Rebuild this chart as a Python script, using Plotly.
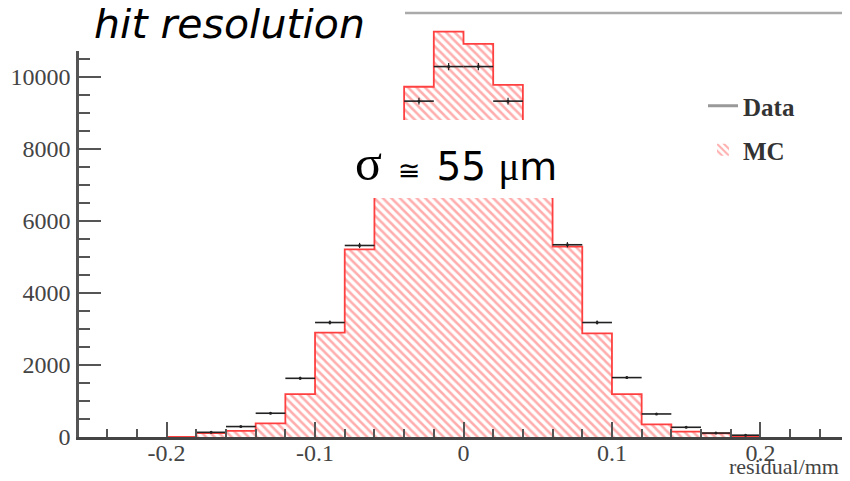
import numpy as np
import plotly.graph_objects as go

# ---------------- data ----------------
bin_edges = [-0.20, -0.18, -0.16, -0.14, -0.12, -0.10, -0.08, -0.06, -0.04, -0.02, 0.00,
             0.02, 0.04, 0.06, 0.08, 0.10, 0.12, 0.14, 0.16, 0.18, 0.20]
mc_counts = [0, 110, 170, 380, 1190, 2900, 5210, 7600, 9730, 11260,
             10920, 9780, 7650, 5290, 2880, 1190, 350, 150, 100, 0]
data_counts = [np.nan, 130, 290, 660, 1630, 3180, 5320, 7700, 9330, 10290,
               10290, 9330, 7700, 5340, 3180, 1650, 640, 270, 110, 50]
x_tickvals = [-0.2, -0.1, 0.0, 0.1, 0.2]
x_ticktext = ["-0.2", "-0.1", "0", "0.1", "0.2"]

edges = np.array(bin_edges)
centers = (edges[:-1] + edges[1:]) / 2
widths = np.diff(edges)
mc = np.array(mc_counts, dtype=float)
dat = np.array(data_counts, dtype=float)

# ---------------- geometry (page has an 8px body margin) ----------------
OFF = 8
W, H = 850 - OFF, 481 - OFF
# plot area in page pixels
PL, PR, PT, PB = 79, 848, 13, 437
L, R, T, B = PL - OFF, 850 - PR, PT - OFF, 481 - PB
PW, PH = PR - PL, PB - PT


def px(x):
    return (x - PL) / PW


def py(y):
    return (PB - y) / PH


fig = go.Figure()

# MC hatched histogram
fig.add_trace(go.Bar(
    x=centers, y=mc, width=widths, name="MC", legend="legend2",
    marker=dict(color="white",
                line=dict(width=0),
                pattern=dict(shape="\\", fgcolor="#ff5c5c", bgcolor="white",
                             size=6, solidity=0.42)),
    hoverinfo="skip",
))
# MC step outline
fig.add_trace(go.Scatter(
    x=edges, y=np.append(mc, 0.0), mode="lines", line_shape="hv",
    line=dict(color="#ff4040", width=1.8), showlegend=False, hoverinfo="skip",
))
# Data points with error bars
fig.add_trace(go.Scatter(
    x=centers, y=dat, mode="markers", showlegend=False,
    marker=dict(size=3, color="#222"),
    error_x=dict(type="data", array=widths / 2, width=0, thickness=1.6, color="#222"),
    error_y=dict(type="data", array=np.sqrt(np.nan_to_num(dat)), width=0, thickness=1.2, color="#222"),
))
# legend entry for Data
fig.add_trace(go.Scatter(
    x=[None], y=[None], mode="lines", name="Data", legend="legend",
    line=dict(color="#999", width=3),
))

tickfont = dict(family="Liberation Serif", size=24, color="#444")
legfont = dict(family="Liberation Serif", size=25, color="#333", weight="bold")

gap = '<span style="font-size:50px"> </span>'

fig.update_layout(
    width=W, height=H,
    margin=dict(l=L, r=R, t=T, b=B, autoexpand=False),
    plot_bgcolor="white", paper_bgcolor="white",
    bargap=0,
    xaxis=dict(range=[-0.259, 0.259], tickmode="array", tickvals=x_tickvals, ticktext=x_ticktext,
               ticks="inside", ticklen=15, tickwidth=1.5, tickcolor="#555",
               minor=dict(dtick=0.02, tick0=0, ticks="inside", ticklen=8, tickwidth=1.5, tickcolor="#555"),
               showline=True, linecolor="#444", linewidth=2.5, showgrid=False, zeroline=False,
               tickfont=tickfont, ticklabelstandoff=-8),
    yaxis=dict(range=[0, 11778], tick0=0, dtick=2000, tickformat="d",
               ticks="inside", ticklen=22, tickwidth=1.5, tickcolor="#555",
               minor=dict(dtick=500, tick0=0, ticks="inside", ticklen=11, tickwidth=1.5, tickcolor="#555"),
               showline=True, linecolor="#555", linewidth=2.5, showgrid=False, zeroline=False,
               tickfont=tickfont, ticklabelstandoff=1),
    legend=dict(x=px(703), y=py(106), xanchor="left", yanchor="middle",
                bgcolor="rgba(0,0,0,0)", font=legfont, itemwidth=30),
    legend2=dict(x=px(703), y=py(150), xanchor="left", yanchor="middle",
                 bgcolor="rgba(0,0,0,0)", font=legfont, itemwidth=30),
    shapes=[
        # frame top and right
        dict(type="line", xref="paper", yref="paper", x0=0, x1=1, y0=1, y1=1,
             line=dict(color="#aaa", width=2.5), layer="above"),
        dict(type="line", xref="paper", yref="paper", x0=1, x1=1, y0=0, y1=1,
             line=dict(color="#aaa", width=2.5), layer="above"),
        # white box behind the title
        dict(type="rect", xref="paper", yref="paper", x0=px(0), x1=px(405), y0=py(51), y1=py(0),
             fillcolor="white", line=dict(width=0), layer="above"),
        # white box behind the sigma label
        dict(type="rect", xref="paper", yref="paper", x0=px(335), x1=px(572), y0=py(198), y1=py(120),
             fillcolor="white", line=dict(width=0), layer="above"),
    ],
    annotations=[
        dict(text="<i>hit resolution</i>", xref="paper", yref="paper", x=px(229), y=py(24),
             xanchor="center", yanchor="middle", showarrow=False,
             font=dict(family="DejaVu Sans", size=41, color="black")),
        dict(text='<span style="font-family:Liberation Serif;font-size:50px">σ</span>'
                  + gap + '<span style="font-size:27px">≅</span>' + gap + '55 '
                  '<span style="font-family:Liberation Serif">μ</span>m',
             xref="paper", yref="paper", x=px(456), y=py(163),
             xanchor="center", yanchor="middle", showarrow=False,
             font=dict(family="DejaVu Sans", size=39, color="black")),
        dict(text="residual/mm", xref="paper", yref="paper", x=px(727), y=py(481),
             xanchor="left", yanchor="bottom", showarrow=False,
             font=dict(family="Liberation Serif", size=22, color="#444")),
    ],
)

fig.write_html("out.html")
